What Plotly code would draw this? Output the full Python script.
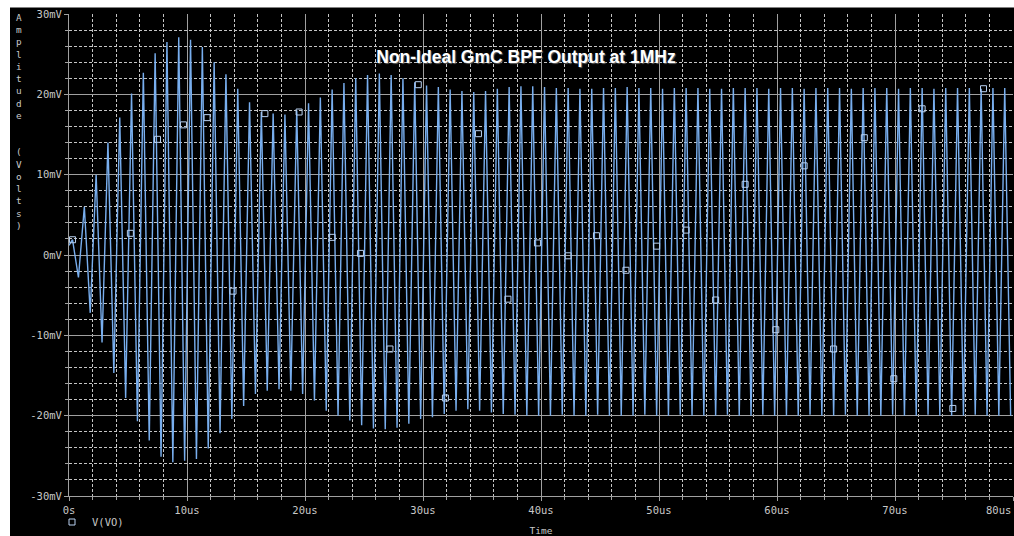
import plotly.graph_objects as go

# ---- data ----
start_time_us = 0.0
start_mV = 1.2
peak_phase_us = 0.3      # positive peaks occur at cycle index + this offset (1 MHz)
trough_phase_us = 0.8    # negative peaks occur at cycle index + this offset

peak_mV = [
    1.9, 6.0, 10.0, 14.0, 17.1, 20.1, 22.7, 25.1, 26.5, 27.1,
    26.8, 25.9, 24.0, 22.5, 20.7, 19.0, 17.8, 17.6, 17.5, 18.0,
    18.9, 19.6, 20.6, 21.4, 22.0, 22.4, 22.6, 22.4, 22.0, 21.5,
    21.1, 20.9, 20.6, 20.4, 20.3, 20.4, 20.7, 20.9, 21.0, 21.0,
    20.9, 20.8, 20.8, 20.7, 20.7, 20.8, 20.8, 20.9, 20.8, 20.8,
    20.7, 20.8, 20.8, 20.8, 20.7, 20.7, 20.8, 20.8, 20.8, 20.7,
    20.8, 20.8, 20.7, 20.8, 20.8, 20.8, 20.7, 20.8, 20.8, 20.8,
    20.7, 20.8, 20.8, 20.7, 20.8, 20.8, 20.8, 20.7, 20.8, 20.8,
]
trough_mV = [
    -2.8, -7.2, -10.9, -14.7, -17.8, -20.7, -23.1, -25.1, -25.8, -25.6,
    -25.4, -24.1, -22.2, -20.4, -18.8, -17.3, -16.9, -16.7, -16.9, -17.3,
    -18.1, -19.4, -20.0, -20.6, -21.2, -21.6, -21.7, -21.5, -21.0, -20.4,
    -20.2, -19.8, -19.4, -19.2, -19.4, -19.6, -19.8, -19.9, -20.0, -20.0,
    -20.0, -19.9, -20.0, -20.0, -19.9, -20.0, -20.0, -20.0, -19.9, -20.0,
    -20.0, -19.9, -20.0, -20.0, -20.0, -19.9, -20.0, -20.0, -19.9, -20.0,
    -20.0, -20.0, -19.9, -20.0, -20.0, -19.9, -20.0, -20.0, -20.0, -19.9,
    -20.0, -20.0, -19.9, -20.0, -20.0, -20.0, -19.9, -20.0, -20.0, -20.0,
]

marker_t_us = [0.3, 5.2, 7.5, 9.7, 11.7, 13.9, 16.6, 19.5, 22.3, 24.7, 27.2,
               29.6, 31.9, 34.7, 37.2, 39.7, 42.3, 44.7, 47.2, 49.8, 52.3,
               54.8, 57.3, 59.9, 62.3, 64.8, 67.4, 69.9, 72.3, 74.9, 77.5]
marker_mV = [1.9, 2.7, 14.4, 16.2, 17.1, -4.5, 17.6, 17.8, 2.2, 0.2, -11.7,
             21.2, -17.8, 15.1, -5.5, 1.5, -0.1, 2.4, -1.9, 1.1, 3.1,
             -5.6, 8.8, -9.3, 11.1, -11.7, 14.6, -15.4, 18.2, -19.1, 20.7]

x_tick_vals = [0, 10, 20, 30, 40, 50, 60, 70, 80]
x_tick_text = ["0s", "10us", "20us", "30us", "40us", "50us", "60us", "70us", "80us"]
y_tick_vals = [-30, -20, -10, 0, 10, 20, 30]
y_tick_text = ["-30mV", "-20mV", "-10mV", "0mV", "10mV", "20mV", "30mV"]

title_text = "Non-Ideal GmC BPF Output at 1MHz"
y_title_text = "Amplitude  (Volts)"
x_title_text = "Time"
series_name = "V(VO)"

# ---- build waveform from peak/trough readings ----
t_vals = [start_time_us]
v_vals = [start_mV]
for k in range(len(peak_mV)):
    t_vals.append(k + peak_phase_us)
    v_vals.append(peak_mV[k])
    t_vals.append(k + trough_phase_us)
    v_vals.append(trough_mV[k])

MONO = "DejaVu Sans Mono"
TXT = "#c8c8c8"
MAJOR = "#a0a0a0"
MINOR = "#c4c4c4"

fig = go.Figure()
fig.add_trace(go.Scatter(
    x=t_vals, y=v_vals, mode="lines",
    line=dict(color="#78aeee", width=1.4),
    showlegend=False, hoverinfo="skip"))
fig.add_trace(go.Scatter(
    x=marker_t_us, y=marker_mV, mode="markers", name=series_name,
    marker=dict(symbol="square-open", size=6, color="#b8d0f0",
                line=dict(width=1, color="#b8d0f0"))))

W, H = 1014, 536
L, R, T, B = 69, 1, 14, 40
pw, ph = W - L - R, H - T - B


def px_x(p):
    return (p - L) / pw


def px_y(p):
    return (H - B - p) / ph


# last x tick label is right-aligned to the plot edge (as in the reference),
# so it is drawn as an annotation anchored at the last tick value
last_tick_val = x_tick_vals[-1]
last_tick_text = x_tick_text[-1]
axis_tick_text = x_tick_text[:-1] + [""]

fig.update_layout(
    template="none",
    autosize=False,
    width=W, height=H,
    margin=dict(l=L, r=R, t=T, b=B, pad=0, autoexpand=False),
    paper_bgcolor="#000000", plot_bgcolor="#000000",
    font=dict(family=MONO, size=10.5, color=TXT),
    title=dict(text="<b>" + title_text + "</b>", x=px_x(526), y=px_y(57),
               xref="paper", yref="paper", xanchor="center", yanchor="middle",
               font=dict(family="Liberation Sans, Arial, sans-serif", size=17.5,
                         color="#ffffff", shadow="1px 1px 1px #606060")),
    showlegend=True,
    legend=dict(x=52 / W, y=1 - 522 / H, xref="container", yref="container",
                xanchor="left", yanchor="middle",
                bgcolor="rgba(0,0,0,0)", font=dict(family=MONO, size=10.5, color=TXT),
                itemwidth=30, borderwidth=0),
    shapes=[
        dict(type="rect", xref="paper", yref="paper",
             x0=px_x(0), x1=px_x(W), y0=px_y(7), y1=px_y(0),
             fillcolor="#ffffff", line=dict(width=0), layer="below"),
        dict(type="line", xref="paper", yref="paper",
             x0=px_x(10), x1=px_x(W), y0=px_y(7.5), y1=px_y(7.5),
             line=dict(width=1, color="#808080"), layer="below"),
        dict(type="rect", xref="paper", yref="paper",
             x0=px_x(0), x1=px_x(10), y0=px_y(H), y1=px_y(0),
             fillcolor="#ffffff", line=dict(width=0), layer="below"),
    ],
    annotations=[
        dict(text="<br>".join(c if c != " " else "\u00a0" for c in y_title_text),
             xref="paper", yref="paper", x=px_x(19), y=px_y(121),
             xanchor="center", yanchor="middle", showarrow=False,
             font=dict(family=MONO, size=9.4, color=TXT)),
        dict(text=last_tick_text, xref="x", yref="paper", x=last_tick_val,
             y=px_y(510), xanchor="right", yanchor="middle", showarrow=False,
             font=dict(family=MONO, size=10.5, color=TXT)),
    ],
)

fig.update_xaxes(
    range=[0, 80], tickvals=x_tick_vals, ticktext=axis_tick_text,
    automargin=False,
    showgrid=True, gridcolor=MAJOR, gridwidth=1, zeroline=False,
    showline=True, linecolor=MAJOR, linewidth=1,
    ticks="outside", ticklen=4, tickcolor=MAJOR,
    tickfont=dict(family=MONO, size=10.5, color=TXT),
    minor=dict(dtick=2, showgrid=True, gridcolor=MINOR, gridwidth=1,
               griddash="3px,2px", ticks="outside", ticklen=3, tickcolor=MAJOR),
    title=dict(text=x_title_text, standoff=12,
               font=dict(family=MONO, size=9.5, color=TXT)),
    fixedrange=True,
)
fig.update_yaxes(
    range=[-30, 30], tickvals=y_tick_vals, ticktext=y_tick_text,
    automargin=False,
    showgrid=True, gridcolor=MAJOR, gridwidth=1, zeroline=False,
    showline=True, linecolor=MAJOR, linewidth=1,
    ticks="outside", ticklen=4, tickcolor=MAJOR,
    tickfont=dict(family=MONO, size=10.5, color=TXT),
    minor=dict(dtick=2, showgrid=True, gridcolor=MINOR, gridwidth=1,
               griddash="3px,2px", ticks="outside", ticklen=3, tickcolor=MAJOR),
    fixedrange=True,
)

fig.write_html("out.html")
